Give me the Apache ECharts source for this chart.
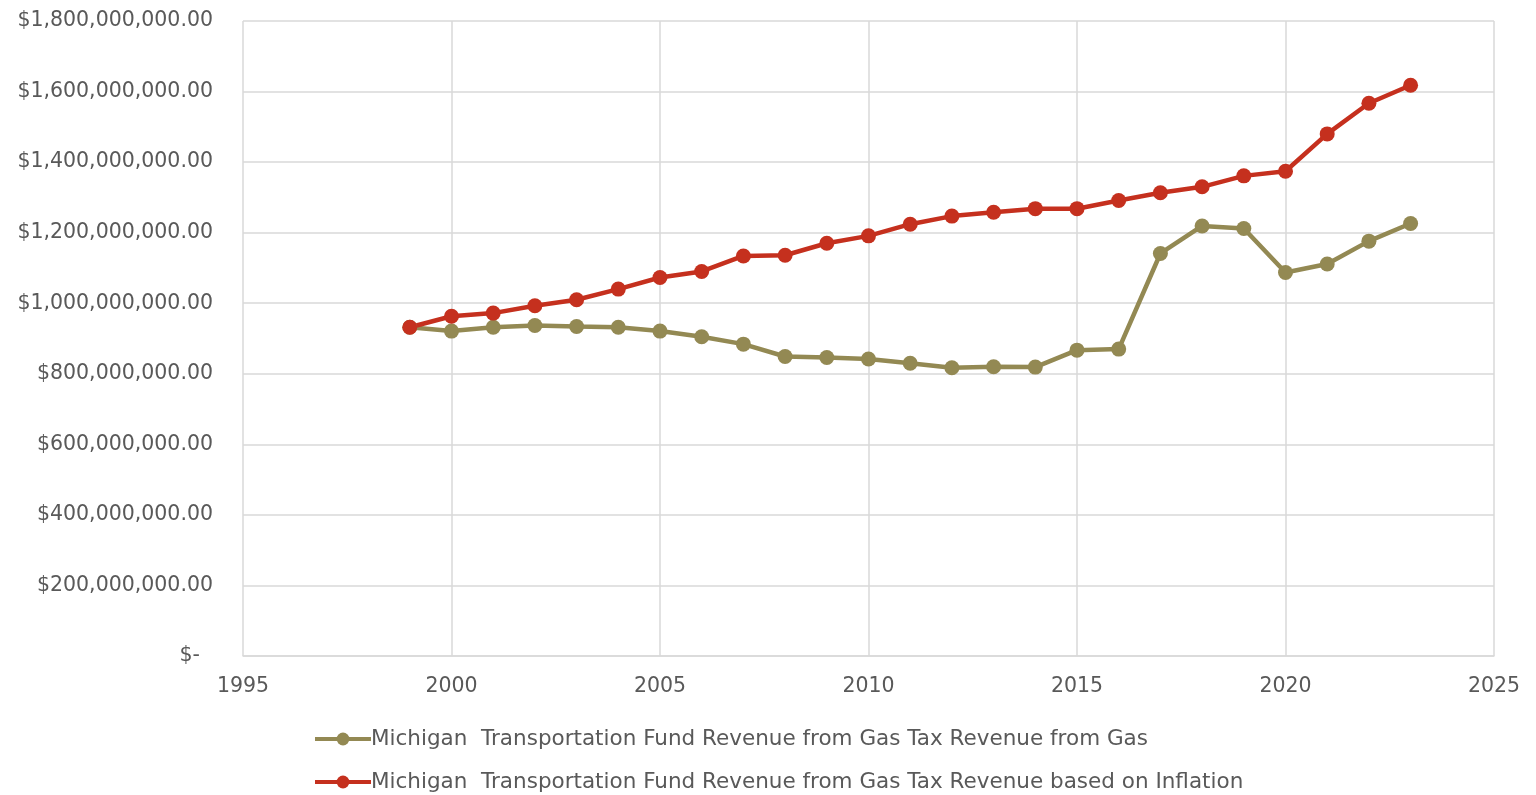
<!DOCTYPE html>
<html>
<head>
<meta charset="utf-8">
<style>
    html, body { margin: 0; padding: 0; background: #fff; }
    #chart { width: 1536px; height: 795px; }
</style>
<script src="https://cdn.jsdelivr.net/npm/echarts@6/dist/echarts.min.js"></script>
</head>
<body>
<div id="chart"></div>
<script>
const years = [1999, 2000, 2001, 2002, 2003, 2004, 2005, 2006, 2007, 2008, 2009, 2010,
    2011, 2012, 2013, 2014, 2015, 2016, 2017, 2018, 2019, 2020, 2021, 2022, 2023];

// revenue from gas tax, in dollars
const gasRevenue = [932e6, 921e6, 932e6, 937e6, 934e6, 932e6, 921e6, 905e6, 884e6, 849e6, 846e6, 842e6,
    830e6, 817e6, 820e6, 819e6, 867e6, 870e6, 1141e6, 1219e6, 1212e6, 1087e6, 1111e6, 1176e6, 1226e6];

// revenue based on inflation, in dollars
const inflationRevenue = [932e6, 963e6, 972e6, 993e6, 1010e6, 1040e6, 1073e6, 1090e6, 1134e6, 1136e6, 1170e6, 1191e6,
    1224e6, 1247e6, 1258e6, 1268e6, 1268e6, 1291e6, 1313e6, 1330e6, 1361e6, 1374e6, 1480e6, 1567e6, 1618e6];

const seriesNames = [
    'Michigan  Transportation Fund Revenue from Gas Tax Revenue from Gas',
    'Michigan  Transportation Fund Revenue from Gas Tax Revenue based on Inflation'
];

const FONT = 'DejaVu Sans';
const TEXT_COLOR = '#595959';
const GRID_COLOR = '#d9d9d9';

function pairs(values) {
    return years.map((y, i) => [y, values[i]]);
}

// one legend per row, so the two rows sit where the reference puts them
function legendRow(name, top) {
    return {
        orient: 'horizontal',
        left: 308,
        top: top,
        itemWidth: 56,
        itemHeight: 16,
        lineStyle: { width: 4 },
        textStyle: {
            fontFamily: FONT,
            fontSize: 21.5,
            lineHeight: 22,
            color: TEXT_COLOR,
            padding: [0, 0, 0, -5]
        },
        data: [name]
    };
}

const chart = echarts.init(document.getElementById('chart'));

chart.setOption({
    animation: false,
    grid: {
        left: 243,
        right: 42,
        top: 21,
        bottom: 139
    },
    legend: [
        legendRow(seriesNames[0], 723),
        legendRow(seriesNames[1], 766)
    ],
    xAxis: {
        type: 'value',
        min: 1995,
        max: 2025,
        interval: 5,
        axisLine: { lineStyle: { color: GRID_COLOR, width: 1.5 } },
        axisTick: { show: false },
        splitLine: { lineStyle: { color: GRID_COLOR, width: 1.5 } },
        axisLabel: {
            fontFamily: FONT,
            fontSize: 20.5,
            color: TEXT_COLOR,
            margin: 20,
            showMinLabel: true,
            showMaxLabel: true,
            formatter: v => String(v)
        }
    },
    yAxis: {
        type: 'value',
        min: 0,
        max: 1800000000,
        interval: 200000000,
        axisLine: { show: false },
        axisTick: { show: false },
        splitLine: { lineStyle: { color: GRID_COLOR, width: 1.5 } },
        axisLabel: {
            fontFamily: FONT,
            fontSize: 20.5,
            color: TEXT_COLOR,
            margin: 30,
            formatter: function (v) {
                if (v === 0) return '$-  ';
                return '$' + v.toLocaleString('en-US', { minimumFractionDigits: 2, maximumFractionDigits: 2 });
            }
        }
    },
    series: [
        {
            name: seriesNames[0],
            type: 'line',
            data: pairs(gasRevenue),
            symbol: 'circle',
            symbolSize: 15,
            color: '#938953',
            lineStyle: { width: 4.5 }
        },
        {
            name: seriesNames[1],
            type: 'line',
            data: pairs(inflationRevenue),
            symbol: 'circle',
            symbolSize: 15,
            color: '#c5301e',
            lineStyle: { width: 4.5 }
        }
    ]
});
</script>
</body>
</html>
